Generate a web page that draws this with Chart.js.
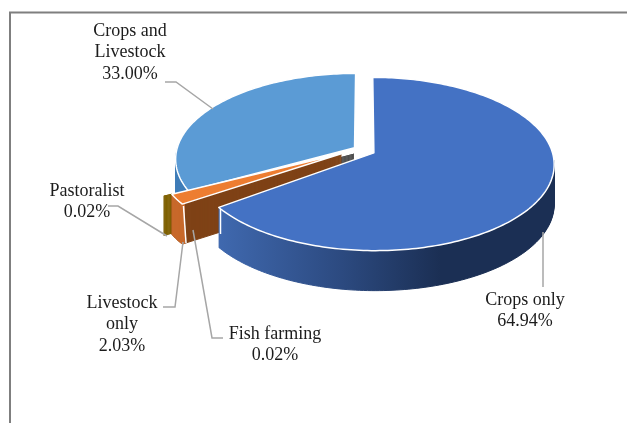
<!DOCTYPE html>
<html>
<head>
<meta charset="utf-8">
<title>Farming activity</title>
<style>
  html, body { margin: 0; padding: 0; background: #fff; overflow: hidden; }
  canvas { display: block; }
</style>
<script src="https://cdn.jsdelivr.net/npm/chart.js@4"></script>
</head>
<body>
<canvas id="chart" width="627" height="423"></canvas>
<script>
(function () {
  'use strict';

  const categories = ['Crops only', 'Livestock only', 'Fish farming', 'Pastoralist', 'Crops and Livestock'];
  const shares = [64.94, 2.03, 0.02, 0.02, 33.00];

  const TOP_COLORS = ['#4472c4', '#ed7d31', '#a5a5a5', '#ffc000', '#5b9bd5'];
  const WALL_COLORS = ['#1b2f54', '#7f4216', '#505050', '#7f6000', '#3f7db8'];
  const ORANGE_RIM = '#c8692b';
  const LINE_GREY = '#a6a6a6';
  const TEXT = '#1c1c1c';

  // pie geometry. Tilted disc seen with a little perspective.
  const CX = 364, CY = 150.5, RX = 178, RY = 84.6, PERSP = 0.128, DEPTH = 40;
  const EXPLODE = [0.062, 0.15, 0.062, 0.15, 0.062];
  const GROW = [1, 1, 1, 1.04, 1];
  const SQUASH = [1, 0.91, 1, 0.91, 1];
  const LIFT = [0, -3, 0, -3, 0];

  const LABEL_LINES = [
    { text: ['Crops only', '64.94%'], x: 525, y: 305 },
    { text: ['Livestock', 'only', '2.03%'], x: 122, y: 308 },
    { text: ['Fish farming', '0.02%'], x: 275, y: 339 },
    { text: ['Pastoralist', '0.02%'], x: 87, y: 196 },
    { text: ['Crops and', 'Livestock', '33.00%'], x: 130, y: 36 }
  ];
  const LEADERS = [
    [[543, 232], [543, 287]],
    [[163, 307], [175, 307], [183, 242]],
    [[223, 338], [212, 338], [193, 230]],
    [[108, 206], [118, 206], [167, 236]],
    [[165, 82], [176, 82], [213, 109]]
  ];
  const WALL_SEAMS = [
    [[183.5, 206], [186, 243]],
    [[220.5, 208], [220.5, 234]]
  ];

  // Wraps the canvas context so the arc element's own path goes through the perspective map
  function projectedContext(ctx, arc, i, drop) {
    const mid = (arc.startAngle + arc.endAngle) / 2;
    const eu = Math.cos(mid) * EXPLODE[i];
    const ev = Math.sin(mid) * EXPLODE[i];

    function project(x, y) {
      const u = (x - arc.x) / arc.outerRadius * GROW[i] + eu;
      const v = (y - arc.y) / arc.outerRadius * GROW[i] + ev;
      const w = 1 / (1 - PERSP * v);
      return [CX + RX * u * w, CY + RY * v * w * SQUASH[i] + LIFT[i] + drop];
    }

    const overrides = {
      translate: function () {},
      moveTo: function (x, y) {
        const p = project(x, y);
        ctx.moveTo(p[0], p[1]);
      },
      lineTo: function (x, y) {
        const p = project(x, y);
        ctx.lineTo(p[0], p[1]);
      },
      arc: function (x, y, r, a0, a1) {
        const steps = Math.max(1, Math.ceil(Math.abs(a1 - a0) / 0.02));
        for (let n = 0; n <= steps; n++) {
          const a = a0 + (a1 - a0) * n / steps;
          overrides.lineTo(x + r * Math.cos(a), y + r * Math.sin(a));
        }
      }
    };

    return new Proxy(ctx, {
      get: function (target, prop) {
        if (overrides[prop]) return overrides[prop];
        const value = target[prop];
        return typeof value === 'function' ? value.bind(target) : value;
      },
      set: function (target, prop, value) {
        target[prop] = value;
        return true;
      }
    });
  }

  function paintSlice(ctx, arc, i, drop, style) {
    ctx.save();
    if (style.clip) {
      // x from, x to, y from
      const c = style.clip;
      ctx.beginPath();
      ctx.rect(c[0], c[2], c[1] - c[0], 423 - c[2]);
      ctx.clip();
    }
    const copy = Object.create(arc);
    copy.options = {
      backgroundColor: style.fill,
      borderColor: style.border || style.fill,
      borderWidth: style.width,
      borderAlign: 'center',
      borderJoinStyle: 'round',
      borderRadius: 0,
      borderDash: [],
      borderDashOffset: 0,
      offset: 0,
      spacing: 0,
      circular: true,
      selfJoin: false
    };
    copy.draw(projectedContext(ctx, arc, i, drop));
    ctx.restore();
  }

  function paintWall(ctx, arc, i, style) {
    for (let d = DEPTH; d >= 1; d--) {
      paintSlice(ctx, arc, i, d, Object.assign({ width: 1 }, style));
    }
  }

  function paintTop(ctx, arc, i) {
    paintSlice(ctx, arc, i, 0, { fill: TOP_COLORS[i], border: '#fff', width: 1.5 });
  }

  function polyline(ctx, pts) {
    ctx.beginPath();
    pts.forEach(function (p, n) {
      if (n === 0) ctx.moveTo(p[0], p[1]); else ctx.lineTo(p[0], p[1]);
    });
    ctx.stroke();
  }

  const tiltedPie = {
    id: 'tiltedPie',
    beforeDatasetsDraw: function (chart) {
      const ctx = chart.ctx;
      const arcs = chart.getDatasetMeta(0).data;

      // light blue at the back, only its outer rim shows
      paintWall(ctx, arcs[4], 4, { fill: WALL_COLORS[4], clip: [160, 191, 0] });
      paintTop(ctx, arcs[4], 4);

      // the thin slices only show a bit of their cut face
      paintWall(ctx, arcs[2], 2, { fill: WALL_COLORS[2], clip: [341, 354, 0] });
      paintWall(ctx, arcs[3], 3, { fill: WALL_COLORS[3], clip: [163, 172, 0] });

      paintWall(ctx, arcs[1], 1, { fill: WALL_COLORS[1] });
      paintWall(ctx, arcs[1], 1, { fill: ORANGE_RIM, clip: [160, 185, 0] });
      paintTop(ctx, arcs[1], 1);

      ctx.strokeStyle = '#fff';
      ctx.lineWidth = 1.5;
      polyline(ctx, WALL_SEAMS[0]);

      const shade = ctx.createLinearGradient(221, 0, 440, 0);
      shade.addColorStop(0, '#3f68ae');
      shade.addColorStop(0.55, '#2c4a80');
      shade.addColorStop(1, WALL_COLORS[0]);
      paintWall(ctx, arcs[0], 0, { fill: shade, clip: [200, 627, 160] });
      polyline(ctx, WALL_SEAMS[1]);
      paintTop(ctx, arcs[0], 0);
      return false;
    },
    afterDraw: function (chart) {
      const ctx = chart.ctx;
      ctx.save();

      // frame, only top and left fall inside the crop
      ctx.strokeStyle = '#7f7f7f';
      ctx.lineWidth = 2;
      polyline(ctx, [[10, 423], [10, 12.5], [627, 12.5]]);

      ctx.strokeStyle = LINE_GREY;
      ctx.lineWidth = 1.5;
      LEADERS.forEach(function (pts) { polyline(ctx, pts); });

      ctx.fillStyle = TEXT;
      ctx.font = '18px "Liberation Serif"';
      ctx.textAlign = 'center';
      ctx.textBaseline = 'alphabetic';
      LABEL_LINES.forEach(function (label) {
        label.text.forEach(function (line, n) {
          ctx.fillText(line, label.x, label.y + n * 21.3);
        });
      });
      ctx.restore();
    }
  };

  new Chart(document.getElementById('chart'), {
    type: 'pie',
    data: {
      labels: categories,
      datasets: [{ data: shares, backgroundColor: TOP_COLORS, borderWidth: 0 }]
    },
    options: {
      responsive: false,
      animation: false,
      layout: { padding: 30 },
      plugins: { legend: { display: false }, tooltip: { enabled: false } }
    },
    plugins: [tiltedPie]
  });
})();
</script>
</body>
</html>
